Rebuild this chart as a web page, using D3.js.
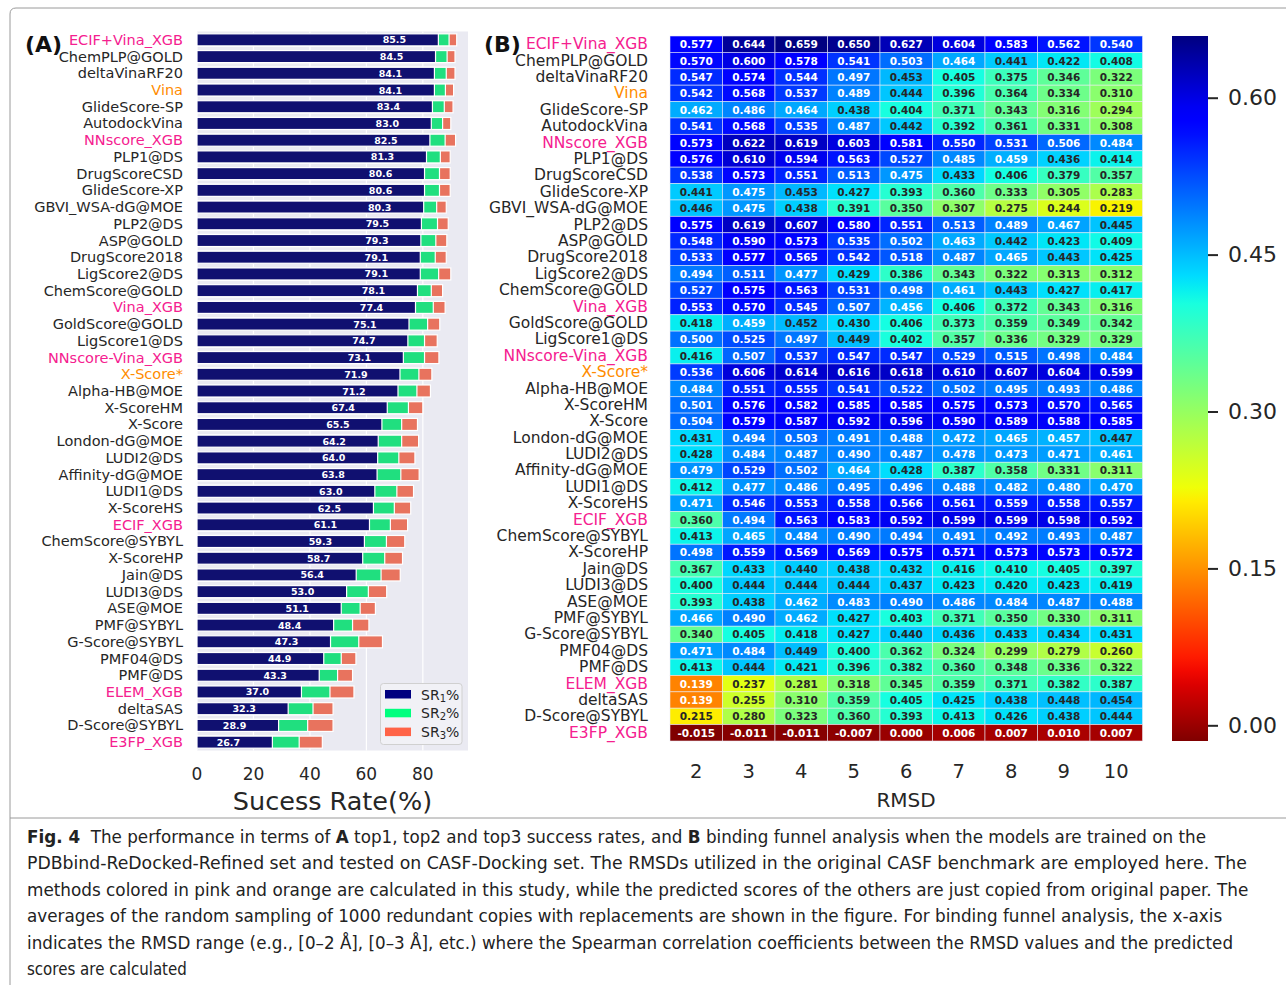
<!DOCTYPE html>
<html>
<head>
<meta charset="utf-8">
<script src="https://cdn.jsdelivr.net/npm/d3@7"></script>
<style>
  body { margin: 0; background: #fff; }
  text { font-family: "DejaVu Sans", sans-serif; }
</style>
</head>
<body>
<div id="chart"></div>
<script>
// scoring functions, same order in both panels
const methods = ["ECIF+Vina_XGB","ChemPLP@GOLD","deltaVinaRF20","Vina","GlideScore-SP","AutodockVina",
  "NNscore_XGB","PLP1@DS","DrugScoreCSD","GlideScore-XP","GBVI_WSA-dG@MOE","PLP2@DS","ASP@GOLD",
  "DrugScore2018","LigScore2@DS","ChemScore@GOLD","Vina_XGB","GoldScore@GOLD","LigScore1@DS",
  "NNscore-Vina_XGB","X-Score*","Alpha-HB@MOE","X-ScoreHM","X-Score","London-dG@MOE","LUDI2@DS",
  "Affinity-dG@MOE","LUDI1@DS","X-ScoreHS","ECIF_XGB","ChemScore@SYBYL","X-ScoreHP","Jain@DS",
  "LUDI3@DS","ASE@MOE","PMF@SYBYL","G-Score@SYBYL","PMF04@DS","PMF@DS","ELEM_XGB","deltaSAS",
  "D-Score@SYBYL","E3FP_XGB"];
const pinkMethods = ["ECIF+Vina_XGB","NNscore_XGB","Vina_XGB","NNscore-Vina_XGB","ECIF_XGB","ELEM_XGB","E3FP_XGB"];
const orangeMethods = ["Vina","X-Score*"];

// panel A: top1 / top2 / top3 success rates (%)
const sr1 = [85.5,84.5,84.1,84.1,83.4,83.0,82.5,81.3,80.6,80.6,80.3,79.5,79.3,79.1,79.1,78.1,77.4,75.1,74.7,
  73.1,71.9,71.2,67.4,65.5,64.2,64.0,63.8,63.0,62.5,61.1,59.3,58.7,56.4,53.0,51.1,48.4,47.3,44.9,43.3,37.0,32.3,28.9,26.7];
const sr2 = [89.3,88.6,88.3,88.0,87.6,87.0,87.9,86.2,85.9,85.9,84.9,85.2,84.6,84.4,85.6,83.0,83.7,81.7,80.6,
  80.6,78.6,77.9,74.9,72.5,72.5,71.5,72.2,70.8,69.9,68.5,67.1,66.5,65.2,60.7,57.8,55.1,57.3,51.1,49.8,47.1,41.1,39.2,36.2];
const sr3 = [92.0,91.4,91.4,90.9,90.7,89.9,91.6,89.7,89.7,89.7,88.3,89.0,88.5,88.3,89.9,87.0,87.9,86.0,85.1,
  85.7,83.2,82.7,80.0,78.1,78.5,77.2,78.7,76.7,75.7,74.6,73.6,72.8,72.0,67.2,63.2,60.9,65.7,56.3,55.1,55.6,48.2,48.2,44.4];
const srTicks = [0, 20, 40, 60, 80];

// panel B: spearman rho per RMSD cutoff
const rmsdCutoffs = [2, 3, 4, 5, 6, 7, 8, 9, 10];
const funnelRho = [
  [0.577,0.644,0.659,0.650,0.627,0.604,0.583,0.562,0.540],
  [0.570,0.600,0.578,0.541,0.503,0.464,0.441,0.422,0.408],
  [0.547,0.574,0.544,0.497,0.453,0.405,0.375,0.346,0.322],
  [0.542,0.568,0.537,0.489,0.444,0.396,0.364,0.334,0.310],
  [0.462,0.486,0.464,0.438,0.404,0.371,0.343,0.316,0.294],
  [0.541,0.568,0.535,0.487,0.442,0.392,0.361,0.331,0.308],
  [0.573,0.622,0.619,0.603,0.581,0.550,0.531,0.506,0.484],
  [0.576,0.610,0.594,0.563,0.527,0.485,0.459,0.436,0.414],
  [0.538,0.573,0.551,0.513,0.475,0.433,0.406,0.379,0.357],
  [0.441,0.475,0.453,0.427,0.393,0.360,0.333,0.305,0.283],
  [0.446,0.475,0.438,0.391,0.350,0.307,0.275,0.244,0.219],
  [0.575,0.619,0.607,0.580,0.551,0.513,0.489,0.467,0.445],
  [0.548,0.590,0.573,0.535,0.502,0.463,0.442,0.423,0.409],
  [0.533,0.577,0.565,0.542,0.518,0.487,0.465,0.443,0.425],
  [0.494,0.511,0.477,0.429,0.386,0.343,0.322,0.313,0.312],
  [0.527,0.575,0.563,0.531,0.498,0.461,0.443,0.427,0.417],
  [0.553,0.570,0.545,0.507,0.456,0.406,0.372,0.343,0.316],
  [0.418,0.459,0.452,0.430,0.406,0.373,0.359,0.349,0.342],
  [0.500,0.525,0.497,0.449,0.402,0.357,0.336,0.329,0.329],
  [0.416,0.507,0.537,0.547,0.547,0.529,0.515,0.498,0.484],
  [0.536,0.606,0.614,0.616,0.618,0.610,0.607,0.604,0.599],
  [0.484,0.551,0.555,0.541,0.522,0.502,0.495,0.493,0.486],
  [0.501,0.576,0.582,0.585,0.585,0.575,0.573,0.570,0.565],
  [0.504,0.579,0.587,0.592,0.596,0.590,0.589,0.588,0.585],
  [0.431,0.494,0.503,0.491,0.488,0.472,0.465,0.457,0.447],
  [0.428,0.484,0.487,0.490,0.487,0.478,0.473,0.471,0.461],
  [0.479,0.529,0.502,0.464,0.428,0.387,0.358,0.331,0.311],
  [0.412,0.477,0.486,0.495,0.496,0.488,0.482,0.480,0.470],
  [0.471,0.546,0.553,0.558,0.566,0.561,0.559,0.558,0.557],
  [0.360,0.494,0.563,0.583,0.592,0.599,0.599,0.598,0.592],
  [0.413,0.465,0.484,0.490,0.494,0.491,0.492,0.493,0.487],
  [0.498,0.559,0.569,0.569,0.575,0.571,0.573,0.573,0.572],
  [0.367,0.433,0.440,0.438,0.432,0.416,0.410,0.405,0.397],
  [0.400,0.444,0.444,0.444,0.437,0.423,0.420,0.423,0.419],
  [0.393,0.438,0.462,0.483,0.490,0.486,0.484,0.487,0.488],
  [0.466,0.490,0.462,0.427,0.403,0.371,0.350,0.330,0.311],
  [0.340,0.405,0.418,0.427,0.440,0.436,0.433,0.434,0.431],
  [0.471,0.484,0.449,0.400,0.362,0.324,0.299,0.279,0.260],
  [0.413,0.444,0.421,0.396,0.382,0.360,0.348,0.336,0.322],
  [0.139,0.237,0.281,0.318,0.345,0.359,0.371,0.382,0.387],
  [0.139,0.255,0.310,0.359,0.405,0.425,0.438,0.448,0.454],
  [0.215,0.280,0.323,0.360,0.393,0.413,0.426,0.438,0.444],
  [-0.015,-0.011,-0.011,-0.007,0.000,0.006,0.007,0.010,0.007]
];
const cbarTicks = [0.00, 0.15, 0.30, 0.45, 0.60];

const captionLines = [
  [["Fig. 4", true], ["  The performance in terms of ", false], ["A", true], [" top1, top2 and top3 success rates, and ", false], ["B", true], [" binding funnel analysis when the models are trained on the", false]],
  [["PDBbind-ReDocked-Refined set and tested on CASF-Docking set. The RMSDs utilized in the original CASF benchmark are employed here. The", false]],
  [["methods colored in pink and orange are calculated in this study, while the predicted scores of the others are just copied from original paper. The", false]],
  [["averages of the random sampling of 1000 redundant copies with replacements are shown in the figure. For binding funnel analysis, the x-axis", false]],
  [["indicates the RMSD range (e.g., [0\u20132 \u00c5], [0\u20133 \u00c5], etc.) where the Spearman correlation coefficients between the RMSD values and the predicted", false]],
  [["scores are calculated", false]]
];
const captionWidths = [1180, 1221, 1223, 1196, 1206, 160];

const W = 1286, H = 985;
const pink = "#f5208f", orange = "#ff8c00", ink = "#262626";
const labelColor = m => pinkMethods.includes(m) ? pink : (orangeMethods.includes(m) ? orange : ink);

const svg = d3.select("#chart").append("svg")
  .attr("width", W).attr("height", H)
  .attr("viewBox", `0 0 ${W} ${H}`);

// ---------- frame ----------
svg.append("path")
  .attr("d", "M10,1000 L10,14 Q10,8 16,8 L1300,8")
  .attr("fill", "none").attr("stroke", "#9a9a9a").attr("stroke-width", 1);
svg.append("line").attr("x1", 10).attr("x2", 1300).attr("y1", 818).attr("y2", 818)
  .attr("stroke", "#9a9a9a").attr("stroke-width", 1);

// ---------- panel A ----------
const rows = methods.map((m, i) => ({m, s1: sr1[i], s2: sr2[i], s3: sr3[i]}));
const xA = d3.scaleLinear().domain([0, 96]).range([197, 468]);
const yA = d3.scaleBand().domain(methods).range([31.5, 750.5]).paddingInner(0.28).paddingOuter(0.14);

const gA = svg.append("g").attr("class", "panelA");
gA.append("rect")
  .attr("x", xA(0)).attr("y", 31.5)
  .attr("width", xA(96) - xA(0)).attr("height", 719)
  .attr("fill", "#eaeaf2");
gA.append("g").selectAll("line").data(srTicks).enter().append("line")
  .attr("x1", d => xA(d)).attr("x2", d => xA(d))
  .attr("y1", 31.5).attr("y2", 750.5)
  .attr("stroke", "#fff").attr("stroke-width", 1.2);

const barColors = {s3: "#e8735e", s2: "#20df7f", s1: "#101070"};
["s3", "s2", "s1"].forEach(k => {
  gA.append("g").selectAll("rect").data(rows).enter().append("rect")
    .attr("x", xA(0))
    .attr("y", d => yA(d.m))
    .attr("width", d => xA(d[k]) - xA(0))
    .attr("height", yA.bandwidth())
    .attr("fill", barColors[k])
    .attr("stroke", "#fff").attr("stroke-width", 1.2);
});

gA.append("g").selectAll("text").data(rows).enter().append("text")
  .attr("x", d => xA(d.s1) - 44)
  .attr("y", d => yA(d.m) + yA.bandwidth() / 2)
  .attr("text-anchor", "middle").attr("dominant-baseline", "central")
  .attr("fill", "#fff").attr("font-weight", "bold").attr("font-size", 9.5)
  .text(d => d.s1.toFixed(1));

gA.append("g").selectAll("text").data(methods).enter().append("text")
  .attr("x", 183)
  .attr("y", d => yA(d) + yA.bandwidth() / 2)
  .attr("text-anchor", "end").attr("dominant-baseline", "central")
  .attr("font-size", 14.5)
  .attr("fill", labelColor)
  .text(d => d);

gA.append("g").selectAll("text").data(srTicks).enter().append("text")
  .attr("x", d => xA(d)).attr("y", 774)
  .attr("text-anchor", "middle").attr("dominant-baseline", "central")
  .attr("font-size", 17).attr("fill", ink)
  .text(d => d);
gA.append("text").attr("x", (xA(0) + xA(96)) / 2).attr("y", 801)
  .attr("text-anchor", "middle").attr("dominant-baseline", "central")
  .attr("font-size", 25.5).attr("fill", ink)
  .text("Sucess Rate(%)");

// legend
const legendItems = [["SR", "1", "#000080"], ["SR", "2", "#00ff7f"], ["SR", "3", "#ff6347"]];
const lg = gA.append("g");
lg.append("rect").attr("x", 380.5).attr("y", 683.5).attr("width", 81.5).attr("height", 61)
  .attr("rx", 3).attr("fill", "#f1f1f6").attr("stroke", "#d0d0d0");
legendItems.forEach((d, i) => {
  lg.append("rect").attr("x", 385).attr("y", 690 + i * 18.8).attr("width", 26).attr("height", 8.5).attr("fill", d[2]);
  const t = lg.append("text").attr("x", 421).attr("y", 694.5 + i * 18.8)
    .attr("dominant-baseline", "central").attr("font-size", 14).attr("fill", ink);
  t.append("tspan").text(d[0]);
  t.append("tspan").attr("font-size", 10).attr("dy", 3).text(d[1]);
  t.append("tspan").attr("dy", -3).text("%");
});

svg.append("text").attr("x", 25).attr("y", 52)
  .attr("font-family", "Liberation Sans").attr("font-weight", "bold").attr("font-size", 22).attr("fill", "#111")
  .text("(A)");

// ---------- panel B ----------
const allVals = funnelRho.flat();
const norm = d3.scaleLinear().domain(d3.extent(allVals)).range([1, 0]).clamp(true); // reversed jet
const jetR = d3.scaleLinear().domain([0, 0.35, 0.66, 0.89, 1]).range([0, 0, 1, 1, 0.5]);
const jetG = d3.scaleLinear().domain([0, 0.125, 0.375, 0.64, 0.91, 1]).range([0, 0, 1, 1, 0, 0]);
const jetB = d3.scaleLinear().domain([0, 0.11, 0.34, 0.65, 1]).range([0.5, 1, 1, 0, 0]);
function jet(v) {
  const t = norm(v);
  return d3.rgb(jetR(t) * 255, jetG(t) * 255, jetB(t) * 255);
}
function luminance(c) {
  const f = u => { u /= 255; return u <= 0.03928 ? u / 12.92 : Math.pow((u + 0.055) / 1.055, 2.4); };
  return 0.2126 * f(c.r) + 0.7152 * f(c.g) + 0.0722 * f(c.b);
}

const xB = d3.scaleBand().domain(rmsdCutoffs).range([670, 1142.5]);
const yB = d3.scaleBand().domain(methods).range([36, 741]);

const cells = [];
methods.forEach((m, i) => rmsdCutoffs.forEach((r, j) => cells.push({m, r, v: funnelRho[i][j]})));

const gB = svg.append("g").attr("class", "panelB");
gB.append("g").selectAll("rect").data(cells).enter().append("rect")
  .attr("x", d => xB(d.r)).attr("y", d => yB(d.m))
  .attr("width", xB.bandwidth()).attr("height", yB.bandwidth())
  .attr("fill", d => jet(d.v))
  .attr("stroke", "rgba(235,235,245,0.7)").attr("stroke-width", 0.8);
gB.append("g").selectAll("text").data(cells).enter().append("text")
  .attr("x", d => xB(d.r) + xB.bandwidth() / 2)
  .attr("y", d => yB(d.m) + yB.bandwidth() / 2)
  .attr("text-anchor", "middle").attr("dominant-baseline", "central")
  .attr("font-size", 10.5).attr("font-weight", "bold")
  .attr("fill", d => luminance(jet(d.v)) > 0.408 ? ink : "#fff")
  .text(d => d.v.toFixed(3));

gB.append("g").selectAll("text").data(methods).enter().append("text")
  .attr("x", 648)
  .attr("y", d => yB(d) + yB.bandwidth() / 2)
  .attr("text-anchor", "end").attr("dominant-baseline", "central")
  .attr("font-size", 15.5)
  .attr("fill", labelColor)
  .text(d => d);

gB.append("g").selectAll("text").data(rmsdCutoffs).enter().append("text")
  .attr("x", d => xB(d) + xB.bandwidth() / 2).attr("y", 771)
  .attr("text-anchor", "middle").attr("dominant-baseline", "central")
  .attr("font-size", 19.5).attr("fill", ink)
  .text(d => d);
gB.append("text").attr("x", 906).attr("y", 800)
  .attr("text-anchor", "middle").attr("dominant-baseline", "central")
  .attr("font-size", 20).attr("fill", ink)
  .text("RMSD");

svg.append("text").attr("x", 484).attr("y", 52)
  .attr("font-family", "Liberation Sans").attr("font-weight", "bold").attr("font-size", 22).attr("fill", "#111")
  .text("(B)");

// colorbar
const [vmin, vmax] = d3.extent(allVals);
const yC = d3.scaleLinear().domain([vmin, vmax]).range([741, 36]);
const grad = svg.append("defs").append("linearGradient")
  .attr("id", "jetgrad").attr("x1", 0).attr("x2", 0).attr("y1", 1).attr("y2", 0);
d3.range(0, 1.0001, 0.02).forEach(f => {
  grad.append("stop").attr("offset", f).attr("stop-color", jet(vmin + f * (vmax - vmin)));
});
gB.append("rect").attr("x", 1172).attr("y", yC(vmax)).attr("width", 36).attr("height", yC(vmin) - yC(vmax))
  .attr("fill", "url(#jetgrad)");
const cbAxis = gB.append("g").attr("transform", "translate(1208,0)")
  .call(d3.axisRight(yC).tickValues(cbarTicks).tickFormat(d3.format(".2f")).tickSize(10).tickPadding(10));
cbAxis.select(".domain").remove();
cbAxis.selectAll("line").attr("stroke", ink).attr("stroke-width", 2);
cbAxis.selectAll("text").attr("font-size", 22).attr("font-family", "DejaVu Sans").attr("fill", ink);

// ---------- caption ----------
// each line is squeezed horizontally to the width it has in the print layout
const cap = svg.append("g");
captionLines.forEach((parts, i) => {
  const g = cap.append("g");
  const t = g.append("text").attr("x", 0).attr("y", 0)
    .attr("font-family", "Open Sans").attr("font-size", 17.5).attr("fill", "#222")
    .attr("xml:space", "preserve");
  parts.forEach(p => t.append("tspan").attr("font-weight", p[1] ? "bold" : null).text(p[0]));
  const natural = t.node().getComputedTextLength();
  g.attr("transform", `translate(27,${843 + i * 26.4}) scale(${captionWidths[i] / natural},1)`);
});
</script>
</body>
</html>
